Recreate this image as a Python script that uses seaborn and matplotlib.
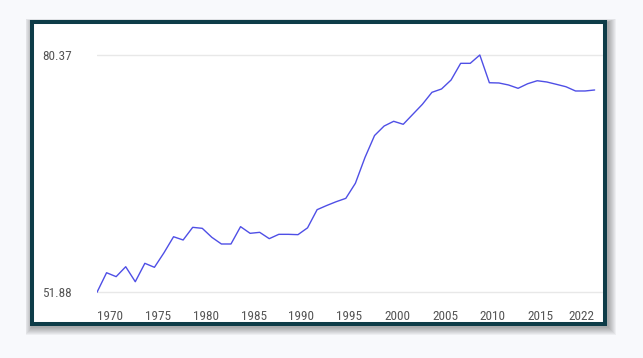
import matplotlib
matplotlib.use("Agg")
import matplotlib.pyplot as plt
from matplotlib.patches import Rectangle
import pandas as pd
import seaborn as sns

# values
years = list(range(1970, 2023))
values = [51.88, 54.23, 53.76, 54.95, 53.15, 55.36, 54.88, 56.63, 58.55, 58.16,
          59.68, 59.56, 58.48, 57.68, 57.68, 59.76, 58.96, 59.08, 58.32, 58.84,
          58.84, 58.80, 59.62, 61.80, 62.30, 62.76, 63.16, 64.97, 68.06, 70.70,
          71.84, 72.41, 72.05, 73.25, 74.45, 75.89, 76.29, 77.37, 79.37, 79.37,
          80.37, 77.04, 77.01, 76.77, 76.37, 76.92, 77.28, 77.13, 76.85, 76.56,
          76.05, 76.05, 76.17]
x_ticks = [1970, 1975, 1980, 1985, 1990, 1995, 2000, 2005, 2010, 2015, 2022]
x_tick_labels = ["1970", "1975", "1980", "1985", "1990", "1995",
                 "2000", "2005", "2010", "2015", "2022"]
y_ticks = [51.88, 80.37]
y_tick_labels = ["51.88", "80.37"]

df = pd.DataFrame({"Year": years, "Value": values})

sns.set_theme(style="white")
plt.rcParams["font.family"] = ["Roboto Condensed", "Archivo Narrow", "DejaVu Sans"]

W, H = 643, 358
fig = plt.figure(figsize=(W / 100, H / 100), dpi=100)
fig.patch.set_facecolor("#f8f9fc")


def fig_rect(x0, y0, x1, y1, **kw):
    # pixel box (top-left origin) -> figure-fraction rectangle
    return Rectangle((x0 / W, 1 - y1 / H), (x1 - x0) / W, (y1 - y0) / H,
                     transform=fig.transFigure, **kw)


# soft drop shadow around the card
for k in range(1, 9):
    fig.add_artist(fig_rect(30 - k * 0.8 + 2, 20 - k * 0.4 + 2, 607 + k + 1, 326 + k + 1,
                            facecolor="#000000", edgecolor="none", alpha=0.045, zorder=0))
# card with dark teal border
fig.add_artist(fig_rect(32, 22, 605, 324, facecolor="white", edgecolor="#0e3c48",
                        linewidth=2.9, zorder=1))

# axes in pixel placement
ax_l, ax_r, ax_t, ax_b = 97, 603, 24, 300
ax = fig.add_axes([ax_l / W, 1 - ax_b / H, (ax_r - ax_l) / W, (ax_b - ax_t) / H], zorder=2)
ax.set_facecolor("none")

sns.lineplot(data=df, x="Year", y="Value", ax=ax, color="#4f4fe6", linewidth=1.0)

px_per_year = 9.57
ax.set_xlim(1970, 1970 + (ax_r - ax_l) / px_per_year)
px_per_unit = 8.33
ax.set_ylim(51.88 - (ax_b - 292.3) / px_per_unit, 80.37 + (55 - ax_t) / px_per_unit)

ax.set_yticks(y_ticks)
ax.set_yticklabels(y_tick_labels)
ax.set_xticks(x_ticks)
ax.set_xticklabels(x_tick_labels)
ax.tick_params(axis="y", length=0, labelsize=9.5, labelcolor="#555555")
ax.tick_params(axis="x", length=0, pad=7, labelsize=9.5, labelcolor="#555555")
for lbl in ax.get_yticklabels():
    lbl.set_ha("left")
    lbl.set_x(-(ax_l - 42) / (ax_r - ax_l))
    lbl.set_transform(ax.get_yaxis_transform())
for lbl in ax.get_xticklabels():
    lbl.set_ha("left")
ax.get_xticklabels()[-1].set_ha("right")

ax.grid(axis="y", color="#e8e8e8", linewidth=1.0)
ax.grid(axis="x", visible=False)
for s in ax.spines.values():
    s.set_visible(False)
ax.set_xlabel("")
ax.set_ylabel("")

fig.savefig("out.png", dpi=100, facecolor=fig.get_facecolor())
